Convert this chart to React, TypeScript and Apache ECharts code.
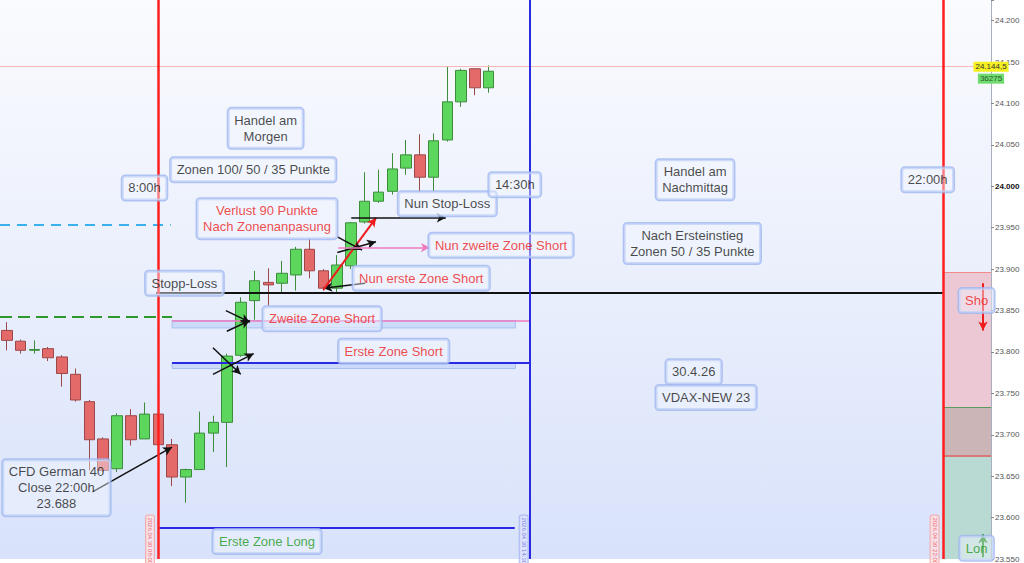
import React, { useEffect, useRef } from 'react';
import * as echarts from 'echarts';

// 15-minute slots (index along the time axis)
const slots = Array.from({ length: 72 }, (_, i) => String(i));

// Candles: open, close, low, high
const opens = [23826, 23813, 23802, 23804, 23794, 23773, 23740, 23695, 23659, 23723, 23695, 23725, 23688, 23649, 23658, 23702, 23715, 23796, 23862, 23884, 23883, 23893, 23924, 23898, 23877, 23904, 23957, 23982, 23994, 24022, 24038, 24011, 24056, 24102, 24142, 24119];
const closes = [23814, 23802, 23803, 23793, 23774, 23742, 23694, 23657, 23723, 23694, 23725, 23688, 23649, 23658, 23702, 23715, 23795, 23860, 23886, 23881, 23895, 23924, 23898, 23877, 23905, 23956, 23982, 23993, 24021, 24038, 24011, 24055, 24102, 24140, 24119, 24139];
const lows = [23802, 23798, 23798, 23789, 23758, 23740, 23657, 23655, 23655, 23687, 23695, 23686, 23638, 23618, 23658, 23679, 23661, 23794, 23839, 23856, 23871, 23874, 23889, 23874, 23870, 23900, 23955, 23980, 23990, 24014, 23993, 23994, 24054, 24096, 24110, 24113];
const highs = [23836, 23815, 23814, 23806, 23796, 23780, 23742, 23697, 23726, 23731, 23739, 23727, 23695, 23659, 23728, 23723, 23798, 23866, 23898, 23901, 23910, 23927, 23937, 23900, 23917, 23957, 24017, 24020, 24040, 24056, 24063, 24064, 24145, 24142, 24142, 24146];

// Price axis
const yMin = 23550;
const yMax = 24225;
const yStep = 50;

// Vertical session lines (slot index)
const sessionX = [11, 38, 68];
const sessionColors = ['#ff1f1f', '#2a2ae0', '#ff1f1f'];
const sessionTags = ['2026.04.30 08:00', '2026.04.30 14:30', '2026.04.30 22:00'];
const sessionTagX = [10.4, 37.55, 67.4];
const sessionTagY = 23572;
const sessionTagColors = ['#f04040', '#5060e0', '#f04040'];

// Horizontal level lines
const levelX1 = [-0.5, -0.5, 10.85, 12, 12, 11, -0.5, 68, 68, 68];
const levelX2 = [11.9, 12.0, 68, 38, 38, 36.9, 71.5, 71.5, 71.5, 71.5];
const levelY = [23954, 23843, 23872, 23838, 23787, 23588, 24144.5, 23896, 23733, 23675];
const levelColors = ['#3ab0ec', '#2e9a2e', '#111111', '#f07ac0', '#2a2ae6', '#2a2ae6', '#f6b8b8', '#f08a8a', '#5a9a5a', '#e05a5a'];
const levelWidths = [2, 2, 2, 1.5, 2, 2, 1, 1, 1, 1.5];
const levelTypes: any[] = [[10, 7], [12, 6], 'solid', 'solid', 'solid', 'solid', 'solid', 'solid', 'solid', 'solid'];

// Arrows: from (x1,y1) to (x2,y2)
const arrowX1 = [6.22, 15.91, 15.98, 14.97, 14.97, 26.03, 22.99, 24.01, 24.01, 24.08, 25.02, 70.92, 70.92];
const arrowY1 = [23631, 23850, 23825, 23805, 23773, 23883, 23875, 23939, 23920, 23926, 23962, 23883, 23552];
const arrowX2 = [12.0, 17.65, 17.65, 16.99, 17.93, 22.99, 26.82, 25.81, 26.82, 30.73, 31.89, 70.92, 70.92];
const arrowY2 = [23685, 23836, 23838, 23773, 23798, 23877, 23962, 23923, 23933, 23926, 23962, 23826, 23580];
const arrowColors = ['#111', '#111', '#111', '#111', '#111', '#111', '#ee1c1c', '#111', '#111', '#f07ac0', '#111', '#ee1c1c', '#1a8a1a'];
const arrowWidths = [1.5, 1.5, 1.5, 1.5, 1.5, 1.5, 2, 1.5, 1.5, 1.5, 1.5, 2, 2];

// Zone bands
const bandX1 = [12, 12, 68, 68, 68];
const bandX2 = [36.94, 36.94, 71.5, 71.5, 71.5];
const bandTop = [23838, 23787, 23896, 23733, 23675];
const bandBottom = [23829, 23780, 23733, 23675, 23550];
const bandColors = ['rgba(195,212,250,0.75)', 'rgba(195,212,250,0.75)', '#ecc7d4', '#cbb5b6', '#b9d9d3'];
const bandBorders = ['#a8c0f0', '#a8c0f0', 'transparent', 'transparent', 'transparent'];

// Text boxes
const texts = ['Handel am\nMorgen', 'Zonen 100/ 50 / 35 Punkte', '8:00h', 'Verlust 90 Punkte\nNach Zonenanpasung', 'Stopp-Loss', 'Nun Stop-Loss', '14:30h', 'Nun zweite Zone Short', 'Nun erste Zone Short', 'Zweite Zone Short', 'Erste Zone Short', 'CFD German 40\nClose 22:00h\n23.688', 'Erste Zone Long', 'Handel am\nNachmittag', 'Nach Ersteinstieg\nZonen 50 / 35 Punkte', '22:00h', '30.4.26', 'VDAX-NEW 23', 'Sho', 'Lon'];
const textX = [18.8, 17.9, 10.0, 18.9, 12.9, 32.0, 36.9, 35.9, 30.1, 22.9, 28.1, 3.6, 18.9, 50.0, 49.8, 66.9, 49.9, 50.8, 70.45, 70.45];
const textY = [24070, 24020, 23998, 23961, 23883, 23979, 24002, 23929, 23889, 23840, 23801, 23636, 23571, 24008, 23931, 24008, 23776, 23745, 23862, 23563];
const textColors = ['#1a1a1a', '#1a1a1a', '#1a1a1a', '#ee2020', '#1a1a1a', '#1a1a1a', '#1a1a1a', '#ee2020', '#ee2020', '#ee2020', '#ee2020', '#1a1a1a', '#1a9a1a', '#1a1a1a', '#1a1a1a', '#1a1a1a', '#1a1a1a', '#1a1a1a', '#ee2020', '#1a9a1a'];

// Price tags on the axis
const lastPrice = 24144.5;
const lastPriceText = '24.144,5';
const timerPrice = 24130;
const timerText = '36275';

const FONT = 'Arial, "Liberation Sans", sans-serif';

function fmtPrice(v: number) {
  const s = String(Math.round(v));
  return s.slice(0, s.length - 3) + '.' + s.slice(-3);
}

export default function App() {
  const ref = useRef<HTMLDivElement>(null);
  useEffect(() => {
    if (!ref.current) return;
    const chart = echarts.init(ref.current, undefined, { renderer: 'svg' });

    const candleData = opens.map((o, i) => [o, closes[i], lows[i], highs[i]]);

    const levelLines = levelY.map((y, i) => [
      { coord: [levelX1[i], y], lineStyle: { color: levelColors[i], width: levelWidths[i], type: levelTypes[i] } },
      { coord: [levelX2[i], y] },
    ]);

    const arrowLines = arrowX1.map((x, i) => [
      { coord: [x, arrowY1[i]], lineStyle: { color: arrowColors[i], width: arrowWidths[i], type: 'solid' }, itemStyle: { color: arrowColors[i] } },
      { coord: [arrowX2[i], arrowY2[i]], itemStyle: { color: arrowColors[i] } },
    ]);

    const bands = bandX1.map((x, i) => [
      { coord: [x, bandTop[i]], itemStyle: { color: bandColors[i], borderColor: bandBorders[i], borderWidth: 1 } },
      { coord: [bandX2[i], bandBottom[i]] },
    ]);

    const textData = texts.map((t, i) => ({
      name: t,
      value: [textX[i], textY[i]],
      label: { color: textColors[i] },
    }));

    const tagData = sessionTags.map((t, i) => ({
      name: t,
      value: [sessionTagX[i], sessionTagY],
      label: {
        color: sessionTagColors[i],
        borderColor: sessionTagColors[i] === '#5060e0' ? '#a0aef0' : '#f4a0a0',
        backgroundColor: sessionTagColors[i] === '#5060e0' ? 'rgba(225,230,252,0.9)' : 'rgba(255,228,232,0.9)',
      },
    }));

    const option: any = {
      animation: false,
      backgroundColor: '#ffffff',
      grid: {
        left: -5,
        right: 33,
        top: -2,
        bottom: -2,
        show: true,
        borderWidth: 0,
        backgroundColor: new echarts.graphic.LinearGradient(0, 0, 0, 1, [
          { offset: 0, color: '#fafbfe' },
          { offset: 0.5, color: '#eaeffc' },
          { offset: 1, color: '#d8e2fa' },
        ]),
      },
      xAxis: [
        { type: 'category', data: slots, boundaryGap: true, show: false },
        { type: 'value', min: -0.5, max: 71.5, show: false },
      ],
      yAxis: {
        type: 'value',
        position: 'right',
        min: yMin,
        max: yMax,
        interval: yStep,
        scale: true,
        splitLine: { show: false },
        axisLine: { show: true, onZero: false, lineStyle: { color: '#a8b0c0', width: 1 } },
        axisTick: { show: true, length: 3, lineStyle: { color: '#888' } },
        axisLabel: {
          show: true,
          fontSize: 8,
          color: '#555',
          fontFamily: FONT,
          margin: 4,
          formatter: (v: number) => {
            if (Math.abs(v % yStep) > 0.001) return '';
            const t = fmtPrice(v);
            return v === 24000 ? '{b|' + t + '}' : t;
          },
          rich: { b: { fontWeight: 'bold', color: '#111', fontSize: 8, fontFamily: FONT } },
        },
      },
      series: [
        {
          type: 'scatter',
          xAxisIndex: 1,
          data: [],
          z: 1,
          markArea: { silent: true, label: { show: false }, data: bands },
        },
        {
          type: 'candlestick',
          xAxisIndex: 0,
          data: candleData,
          barWidth: 11,
          z: 2,
          itemStyle: {
            color: '#5cd65c',
            color0: '#e46a6a',
            borderColor: '#3c8c3c',
            borderColor0: '#9c4848',
            borderWidth: 1,
          },
        },
        {
          type: 'scatter',
          xAxisIndex: 1,
          data: [],
          z: 3,
          markLine: {
            silent: true,
            symbol: ['none', 'none'],
            label: { show: false },
            data: levelLines,
          },
        },
        {
          type: 'scatter',
          xAxisIndex: 1,
          data: [],
          z: 4,
          markLine: {
            silent: true,
            symbol: ['none', 'arrow'],
            symbolSize: [7, 9],
            label: { show: false },
            data: arrowLines,
          },
        },
        {
          type: 'scatter',
          xAxisIndex: 1,
          data: textData,
          z: 5,
          symbolSize: 1,
          itemStyle: { color: 'transparent' },
          label: {
            show: true,
            position: 'inside',
            formatter: '{b}',
            fontSize: 13,
            fontFamily: FONT,
            lineHeight: 16,
            align: 'center',
            backgroundColor: 'rgba(242,245,255,0.55)',
            borderColor: '#9fb6f0',
            borderWidth: 1.5,
            borderRadius: 3,
            padding: [4, 6],
          },
        },
        {
          type: 'scatter',
          xAxisIndex: 1,
          data: tagData,
          z: 5,
          symbolSize: 1,
          itemStyle: { color: 'transparent' },
          label: {
            show: true,
            position: 'inside',
            formatter: '{b}',
            rotate: -90,
            fontSize: 6,
            fontFamily: FONT,
            borderWidth: 1,
            borderRadius: 2,
            padding: [1, 2],
          },
        },
        {
          type: 'scatter',
          xAxisIndex: 1,
          data: [],
          z: 6,
          markLine: {
            silent: true,
            symbol: ['none', 'none'],
            label: { show: false },
            data: sessionX.map((x, i) => ({ xAxis: x, lineStyle: { color: sessionColors[i], width: i === 1 ? 2 : 2.5, type: 'solid' } })),
          },
        },
        {
          type: 'scatter',
          xAxisIndex: 1,
          data: [],
          z: 7,
          markLine: {
            silent: true,
            symbol: ['none', 'none'],
            data: [
              [
                {
                  coord: [71.5, lastPrice],
                  lineStyle: { color: 'transparent', width: 0 },
                  label: {
                    show: true,
                    position: 'end',
                    formatter: lastPriceText,
                    distance: 2,
                    fontSize: 8,
                    fontFamily: FONT,
                    color: '#333',
                    backgroundColor: '#f6f020',
                    padding: [1, 2],
                  },
                },
                { coord: [71.5, lastPrice] },
              ],
              [
                {
                  coord: [71.5, timerPrice],
                  lineStyle: { color: 'transparent', width: 0 },
                  label: {
                    show: true,
                    position: 'end',
                    formatter: timerText,
                    distance: 2,
                    fontSize: 8,
                    fontFamily: FONT,
                    color: '#2a5a2a',
                    backgroundColor: '#70dc70',
                    padding: [1, 2],
                  },
                },
                { coord: [71.5, timerPrice] },
              ],
            ],
          },
        },
      ],
    };
    chart.setOption(option);
    return () => chart.dispose();
  }, []);

  return (
    <div
      ref={ref}
      style={{ position: 'fixed', left: 0, top: 0, width: 1024, height: 563 }}
    />
  );
}
